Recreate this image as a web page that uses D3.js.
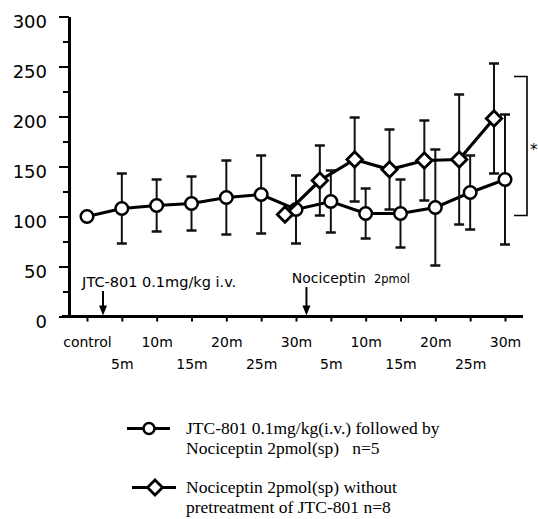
<!DOCTYPE html>
<html>
<head>
<meta charset="utf-8">
<script src="https://cdn.jsdelivr.net/npm/d3@7/dist/d3.min.js"></script>
<style>
  html, body { margin: 0; padding: 0; background: #fff; }
  svg { display: block; }
  .lbl { font-family: "DejaVu Sans", sans-serif; fill: #000; }
  .leg { font-family: "Liberation Serif", "Times New Roman", serif; fill: #000; white-space: pre; }
</style>
</head>
<body>
<svg id="chart" width="538" height="519"></svg>
<script>
// ---------------- data ----------------
const categories = ["control","5m","10m","15m","20m","25m","30m","5m","10m","15m","20m","25m","30m"];
const yTickValues = [0, 50, 100, 150, 200, 250, 300];
const yMinorTickValues = [25, 75, 125, 175, 225, 275];

// JTC-801 0.1mg/kg (i.v.) followed by Nociceptin 2pmol (sp), n=5  (circles)
const jtcMean = [100, 108, 111, 113, 119, 122, 107, 115, 103, 103, 109, 124, 137];
const jtcErr  = [0,   35,  26,  27,  37,  39,  34,  31,  25,  34,  58,  37,  65];

// Nociceptin 2pmol (sp) without pretreatment of JTC-801, n=8  (diamonds)
const nocMean = [null, null, null, null, null, null, 102, 136, 157, 147, 156, 157, 198];
const nocErr  = [null, null, null, null, null, null, 0,   35,  42,  40,  40,  65,  55];

// significance bracket (values on y scale)
const bracketTop = 240;
const bracketBottom = 101;

// annotations (positions in category-index units)
const annotations = [
  { text: "JTC-801 0.1mg/kg i.v.", small: "", textAt: -0.14, arrowAt: 0.46, base: 287 },
  { text: "Nociceptin", small: "2pmol", textAt: 5.88, arrowAt: 6.3, base: 283 }
];

const legendItems = [
  { symbol: "circle", lines: ["JTC-801 0.1mg/kg(i.v.) followed by", "Nociceptin 2pmol(sp)   n=5"] },
  { symbol: "diamond", lines: ["Nociceptin 2pmol(sp) without", "pretreatment of JTC-801 n=8"] }
];

// ---------------- layout ----------------
const svg = d3.select("#chart");
const x = d3.scaleLinear().domain([0, categories.length - 1]).range([87, 505]);
const y = d3.scaleLinear().domain([0, 300]).range([316.5, 16.5]);
const diamondShift = -11;
const capW = 5;

// ---------------- axes ----------------
const yAxisX = 69;
const yMajor = svg.append("g").attr("transform", `translate(${yAxisX},0)`)
  .call(d3.axisLeft(y).tickValues(yTickValues).tickSize(10).tickSizeOuter(0).tickPadding(12));
yMajor.select(".domain").attr("stroke", "#000").attr("stroke-width", 3);
yMajor.selectAll(".tick line").attr("stroke", "#000").attr("stroke-width", 2);
yMajor.selectAll(".tick text")
  .attr("class", "lbl").style("font-size", "18px").attr("dy", "0.62em")
  .attr("fill", "#000");

const yMinor = svg.append("g").attr("transform", `translate(${yAxisX},0)`)
  .call(d3.axisLeft(y).tickValues(yMinorTickValues).tickSize(6).tickFormat(""));
yMinor.select(".domain").remove();
yMinor.selectAll(".tick line").attr("stroke", "#000").attr("stroke-width", 2);

// x axis baseline
svg.append("line")
  .attr("x1", 62).attr("x2", 523)
  .attr("y1", y(0)).attr("y2", y(0))
  .attr("stroke", "#000").attr("stroke-width", 3);

const xAxis = svg.append("g").attr("transform", `translate(0,${y(0)})`)
  .call(d3.axisBottom(x).tickValues(d3.range(categories.length)).tickSize(5).tickSizeOuter(0)
    .tickFormat(i => categories[i]));
xAxis.select(".domain").remove();
xAxis.selectAll(".tick line").attr("stroke", "#000").attr("stroke-width", 2);
xAxis.selectAll(".tick text")
  .attr("class", "lbl").style("font-size", "14px").attr("fill", "#000")
  .attr("y", (d) => d % 2 === 0 ? 30 : 52).attr("dy", "0");

// ---------------- annotations ----------------
annotations.forEach(a => {
  const t = svg.append("text").attr("class", "lbl")
    .attr("x", x(a.textAt)).attr("y", a.base)
    .style("font-size", a.small ? "14px" : "14.5px").text(a.text);
  if (a.small) {
    t.append("tspan").attr("dx", 8).style("font-size", "11.5px").text(a.small);
  }
  const ax = x(a.arrowAt);
  svg.append("line").attr("x1", ax).attr("x2", ax)
    .attr("y1", a.base + 4).attr("y2", y(0) - 9)
    .attr("stroke", "#000").attr("stroke-width", 2);
  svg.append("path")
    .attr("d", `M${ax - 4},${y(0) - 11}L${ax + 4},${y(0) - 11}L${ax},${y(0) - 1}Z`)
    .attr("fill", "#000");
});

// ---------------- series drawing ----------------
function diamondPath(cx, cy, r) {
  return `M${cx},${cy - r}L${cx + r},${cy}L${cx},${cy + r}L${cx - r},${cy}Z`;
}

function drawErrorBars(means, errs, shift) {
  const g = svg.append("g");
  means.forEach((m, i) => {
    if (m == null || !errs[i]) return;
    const cx = x(i) + shift;
    const top = y(m + errs[i]), bot = y(m - errs[i]);
    g.append("line").attr("x1", cx).attr("x2", cx).attr("y1", top).attr("y2", bot)
      .attr("stroke", "#111").attr("stroke-width", 2);
    [top, bot].forEach(yy => {
      g.append("line").attr("x1", cx - capW).attr("x2", cx + capW).attr("y1", yy).attr("y2", yy)
        .attr("stroke", "#111").attr("stroke-width", 2.5);
    });
  });
}

const line = (shift) => d3.line()
  .defined(d => d.v != null)
  .x(d => x(d.i) + shift)
  .y(d => y(d.v));

// circles series
drawErrorBars(jtcMean, jtcErr, 0);
svg.append("path")
  .datum(jtcMean.map((v, i) => ({ i, v })))
  .attr("d", line(0))
  .attr("fill", "none").attr("stroke", "#000").attr("stroke-width", 3);
svg.append("g").selectAll("circle")
  .data(jtcMean.map((v, i) => ({ i, v })))
  .join("circle")
  .attr("cx", d => x(d.i)).attr("cy", d => y(d.v)).attr("r", 6.3)
  .attr("fill", "#fff").attr("stroke", "#000").attr("stroke-width", 2.5);

// diamonds series
drawErrorBars(nocMean, nocErr, diamondShift);
const nocData = nocMean.map((v, i) => ({ i, v })).filter(d => d.v != null);
svg.append("path")
  .datum(nocData)
  .attr("d", line(diamondShift))
  .attr("fill", "none").attr("stroke", "#000").attr("stroke-width", 3.2);
svg.append("g").selectAll("path")
  .data(nocData)
  .join("path")
  .attr("d", d => diamondPath(x(d.i) + diamondShift, y(d.v), 7.7))
  .attr("fill", "#fff").attr("stroke", "#000").attr("stroke-width", 2.8)
  .attr("stroke-linejoin", "miter");

// ---------------- significance bracket ----------------
const bx = 527;
svg.append("path")
  .attr("d", `M${bx - 13},${y(bracketTop)}H${bx}V${y(bracketBottom)}H${bx - 13}`)
  .attr("fill", "none").attr("stroke", "#000").attr("stroke-width", 1.6);
svg.append("text").attr("class", "lbl")
  .attr("x", bx + 3).attr("y", y((bracketTop + bracketBottom) / 2) + 9)
  .style("font-size", "15px").text("*");

// ---------------- legend ----------------
const legendBase = [434, 493];
legendItems.forEach((item, k) => {
  const b = legendBase[k];
  const cy = b - 5.5;
  const g = svg.append("g");
  if (item.symbol === "circle") {
    g.append("line").attr("x1", 127).attr("x2", 170).attr("y1", cy).attr("y2", cy)
      .attr("stroke", "#000").attr("stroke-width", 3);
    g.append("circle").attr("cx", 149).attr("cy", cy).attr("r", 5.5)
      .attr("fill", "#fff").attr("stroke", "#000").attr("stroke-width", 2.5);
  } else {
    g.append("line").attr("x1", 132).attr("x2", 176).attr("y1", cy).attr("y2", cy)
      .attr("stroke", "#000").attr("stroke-width", 3);
    g.append("path").attr("d", diamondPath(155, cy, 7.5))
      .attr("fill", "#fff").attr("stroke", "#000").attr("stroke-width", 2.8);
  }
  item.lines.forEach((txt, j) => {
    g.append("text").attr("class", "leg")
      .attr("x", 186).attr("y", b + j * 19.5)
      .style("font-size", "17.5px").text(txt);
  });
});
</script>
</body>
</html>
